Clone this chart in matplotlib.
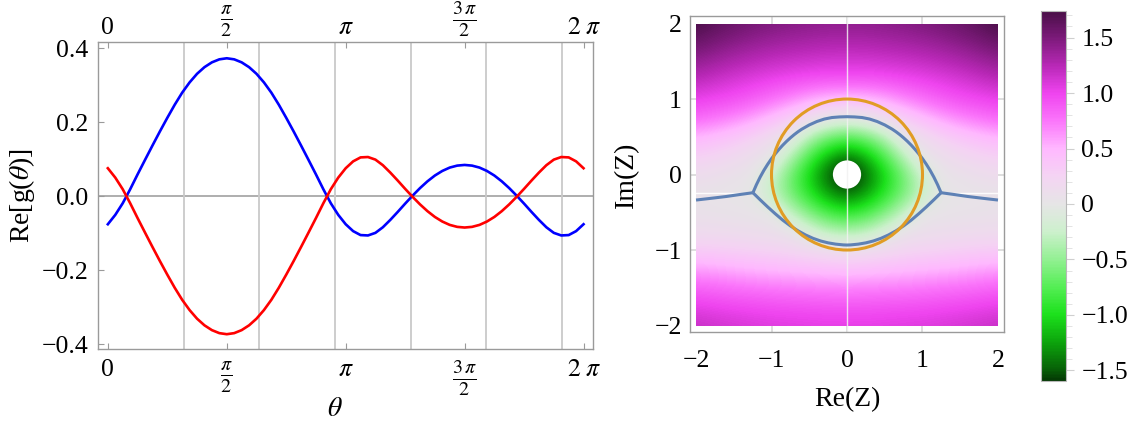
import numpy as np
import matplotlib
matplotlib.use("Agg")
import matplotlib.pyplot as plt
from matplotlib.colors import LinearSegmentedColormap, Normalize
from matplotlib.patches import Circle, Rectangle
from matplotlib.ticker import MultipleLocator, FixedLocator, FixedFormatter
import matplotlib.cm as cm

plt.rcParams['font.family'] = ['Liberation Serif', 'DejaVu Serif']
plt.rcParams['mathtext.fontset'] = 'stix'

# ---------------- left panel data: Re[g(theta)] sampled every pi/32 ----------------
n_theta = 65
theta = np.linspace(0.0, 2 * np.pi, n_theta)
re_g_blue = [-0.0757, -0.0504, -0.019, 0.0187, 0.059, 0.0982, 0.137, 0.1751, 0.212,
             0.2475, 0.280, 0.3078, 0.331, 0.349, 0.362, 0.3701, 0.373,
             0.3701, 0.362, 0.349, 0.331, 0.3078, 0.280, 0.2475, 0.212,
             0.1751, 0.137, 0.0982, 0.059, 0.0187, -0.019, -0.0504, -0.0757,
             -0.0943, -0.105, -0.106, -0.099, -0.0839, -0.064, -0.0424, -0.020,
             0.0016, 0.022, 0.0403, 0.056, 0.0684, 0.0775, 0.0828, 0.0846,
             0.0828, 0.0775, 0.0684, 0.056, 0.0403, 0.022, 0.0016, -0.020,
             -0.0424, -0.064, -0.0839, -0.099, -0.106, -0.105, -0.0943, -0.0757]
re_g_red = [0.0757, 0.0504, 0.019, -0.0187, -0.059, -0.0982, -0.137, -0.1751, -0.212,
            -0.2475, -0.280, -0.3078, -0.331, -0.349, -0.362, -0.3701, -0.373,
            -0.3701, -0.362, -0.349, -0.331, -0.3078, -0.280, -0.2475, -0.212,
            -0.1751, -0.137, -0.0982, -0.059, -0.0187, 0.019, 0.0504, 0.0757,
            0.0943, 0.105, 0.106, 0.099, 0.0839, 0.064, 0.0424, 0.020,
            -0.0016, -0.022, -0.0403, -0.056, -0.0684, -0.0775, -0.0828, -0.0846,
            -0.0828, -0.0775, -0.0684, -0.056, -0.0403, -0.022, -0.0016, 0.020,
            0.0424, 0.064, 0.0839, 0.099, 0.106, 0.105, 0.0943, 0.0757]

theta_ticks = [0, np.pi / 2, np.pi, 3 * np.pi / 2, 2 * np.pi]
theta_labels = ['0', r'$\frac{\pi}{2}$', r'$\pi$', r'$\frac{3\,\pi}{2}$', r'$2\;\pi$']
g_ticks = [-0.4, -0.2, 0.0, 0.2, 0.4]
g_labels = ['\u22120.4', '\u22120.2', '0.0', '0.2', '0.4']

# ---------------- right panel data: field on the Z plane ----------------
# grid values for Re(Z) = 0, 0.25, ..., 2 (mirror-symmetric in Re(Z)); rows Im(Z) = 2 ... -2
grid_re = [0.0, 0.25, 0.5, 0.75, 1.0, 1.25, 1.5, 1.75, 2.0]
grid_im = [2.0, 1.75, 1.5, 1.25, 1.0, 0.75, 0.5, 0.25, 0.0,
           -0.25, -0.5, -0.75, -1.0, -1.25, -1.5, -1.75, -2.0]
field_half = [
    [1.42, 1.42, 1.44, 1.46, 1.49, 1.53, 1.58, 1.65, 1.74],
    [1.28, 1.28, 1.30, 1.32, 1.35, 1.39, 1.44, 1.50, 1.57],
    [1.12, 1.12, 1.14, 1.16, 1.19, 1.23, 1.28, 1.34, 1.40],
    [0.90, 0.90, 0.92, 0.96, 1.00, 1.05, 1.10, 1.16, 1.22],
    [0.45, 0.48, 0.56, 0.68, 0.78, 0.87, 0.94, 0.98, 1.02],
    [-0.04, 0.02, 0.14, 0.30, 0.45, 0.58, 0.68, 0.76, 0.82],
    [-0.73, -0.62, -0.34, 0.02, 0.14, 0.27, 0.37, 0.44, 0.50],
    [-1.41, -1.18, -0.78, -0.33, 0.03, 0.10, 0.18, 0.24, 0.28],
    [-1.80, -1.48, -1.06, -0.64, -0.22, 0.03, 0.06, 0.10, 0.13],
    [-1.45, -1.26, -0.94, -0.61, -0.29, 0.00, 0.02, 0.03, 0.04],
    [-0.92, -0.81, -0.57, -0.28, 0.02, 0.03, 0.04, 0.05, 0.06],
    [-0.39, -0.32, -0.14, 0.05, 0.08, 0.10, 0.12, 0.13, 0.14],
    [0.12, 0.14, 0.18, 0.22, 0.25, 0.27, 0.29, 0.31, 0.32],
    [0.42, 0.43, 0.45, 0.47, 0.49, 0.51, 0.54, 0.57, 0.60],
    [0.70, 0.71, 0.72, 0.73, 0.75, 0.77, 0.79, 0.82, 0.85],
    [0.92, 0.92, 0.93, 0.94, 0.95, 0.97, 0.99, 1.01, 1.04],
    [1.05, 1.05, 1.06, 1.07, 1.08, 1.10, 1.12, 1.15, 1.18],
]
hole_radius = 0.187
field_min, field_max = -1.595, 1.739

# Stokes curves (left half; right half is the mirror image)
upper_x = [-1.246, -1.20, -1.15, -1.10, -1.05, -1.00, -0.95, -0.90, -0.85, -0.80,
           -0.75, -0.70, -0.65, -0.60, -0.50, -0.40, -0.30, -0.20, -0.10, 0.0]
upper_y = [-0.241, -0.135, -0.033, 0.057, 0.137, 0.21, 0.275, 0.335, 0.39, 0.44,
           0.486, 0.528, 0.566, 0.60, 0.657, 0.702, 0.735, 0.755, 0.763, 0.766]
lower_x = [-1.246, -1.15, -1.05, -0.95, -0.85, -0.75, -0.65, -0.55, -0.45, -0.35,
           -0.25, -0.15, -0.05, 0.0]
lower_y = [-0.241, -0.335, -0.43, -0.52, -0.605, -0.68, -0.745, -0.80, -0.845, -0.88,
           -0.905, -0.922, -0.932, -0.934]
outer_x = [-2.0, -1.8, -1.6, -1.4, -1.246]
outer_y = [-0.338, -0.315, -0.291, -0.262, -0.241]
# seam of the branch cut in the shaded field
cut_x = [-2.0, -1.246]
cut_y = [-0.247, -0.247]
unit_radius = 1.0

cbar_ticks = [-1.5, -1.0, -0.5, 0.0, 0.5, 1.0, 1.5]
cbar_labels = ['\u22121.5', '\u22121.0', '\u22120.5', '0', '0.5', '1.0', '1.5']
zplane_ticks = [-2, -1, 0, 1, 2]
zplane_labels = ['\u22122', '\u22121', '0', '1', '2']

# colour scale: dark green -> light grey -> magenta -> dark purple
cmap_nodes = [(-1.595, '#043804'), (-1.5, '#075f07'), (-1.25, '#0ca40c'),
              (-1.0, '#1ce11c'), (-0.75, '#55ee55'), (-0.5, '#93f093'),
              (-0.25, '#cdf0cd'), (0.0, '#e6e5e6'), (0.25, '#f4d4f3'),
              (0.5, '#ffb8ff'), (0.75, '#fb76fb'), (1.0, '#ef44ef'),
              (1.25, '#b828b6'), (1.5, '#7c1a7a'), (1.739, '#4a0f48')]
span = field_max - field_min
cmap = LinearSegmentedColormap.from_list(
    'greenpink', [((v - field_min) / span, c) for v, c in cmap_nodes])
norm = Normalize(vmin=field_min, vmax=field_max)

FS_TICK = 18.5
FS_FRAC = 20.5
FS_LABEL = 20
FRAME = '#9a9a9a'
GRID = '#c9c9c9'

fig = plt.figure(figsize=(11.4, 4.22), dpi=100)

# ---------------- left panel ----------------
ax = fig.add_axes([98 / 1140, 1 - 349 / 422, 495 / 1140, 307 / 422])
ax.set_xlim(-0.13, 2 * np.pi + 0.125)
ax.set_ylim(-0.413, 0.417)
ax.set_xticks(range(1, 7), minor=True)
ax.set_yticks([-0.2, 0.2], minor=True)
ax.grid(which='minor', color=GRID, lw=1.3)
ax.axhline(0, color='#a8a8a8', lw=1.3, zorder=1)
ax.plot(theta, re_g_blue, color='#0000ff', lw=1.9, zorder=3)
ax.plot(theta, re_g_red, color='#ff0000', lw=1.9, zorder=3)
ax.set_xticks(theta_ticks)
ax.set_xticklabels(theta_labels)
ax.set_yticks(g_ticks)
ax.set_yticklabels(g_labels)
ax.tick_params(which='major', direction='in', length=4, width=0.8, color=FRAME,
               labelsize=FS_TICK, top=True, pad=7)
ax.tick_params(which='minor', length=0)
for s in ax.spines.values():
    s.set_color(FRAME)
    s.set_linewidth(1.0)

top = ax.secondary_xaxis('top')
top.set_xticks(theta_ticks)
top.set_xticklabels(theta_labels)
top.tick_params(direction='in', length=0, labelsize=FS_TICK, pad=2.5)
top.spines['top'].set_visible(False)
for lab in list(ax.get_xticklabels()) + list(top.get_xticklabels()):
    if 'frac' in lab.get_text():
        lab.set_fontsize(FS_FRAC)

fig.text(22 / 1140, 1 - 196 / 422, r'Re[g($\theta$)]', rotation=90,
         ha='center', va='center', fontsize=FS_LABEL)
fig.text(335 / 1140, 1 - 410 / 422, r'$\theta$', ha='center', va='center',
         fontsize=FS_LABEL)

# ---------------- right panel ----------------
ax2 = fig.add_axes([689 / 1140, 1 - 332 / 422, 316 / 1140, 316 / 422])
ax2.set_xlim(-2.079, 2.079)
ax2.set_ylim(-2.086, 2.1)
for v in (-1, 0, 1):
    ax2.axvline(v, color='#d4d4d4', lw=1.1, zorder=0)
    ax2.axhline(v, color='#d4d4d4', lw=1.1, zorder=0)

half = np.array(field_half)
field = np.hstack([half[:, :0:-1], half])
step = grid_re[1] - grid_re[0]
im = ax2.imshow(field, cmap=cmap, norm=norm, origin='upper',
                extent=[-grid_re[-1] - step / 2, grid_re[-1] + step / 2,
                        grid_im[-1] - step / 2, grid_im[0] + step / 2],
                interpolation='bicubic', interpolation_stage='data', zorder=1)
im.set_clip_path(Rectangle((-grid_re[-1], grid_im[-1]), 2 * grid_re[-1],
                           grid_im[0] - grid_im[-1], transform=ax2.transData))
ax2.add_patch(Circle((0, 0), hole_radius, facecolor='white', edgecolor='none', zorder=2))
ax2.axvline(0, color='#f2f2f2', lw=1.0, alpha=0.85, zorder=2.5)
cx, cy = np.array(cut_x), np.array(cut_y)
ax2.plot(cx, cy, color='white', lw=1.0, alpha=0.9, zorder=2.6)
ax2.plot(-cx, cy, color='white', lw=1.0, alpha=0.9, zorder=2.6)

blue = '#5e81b5'
orange = '#e19c24'
ux, uy = np.array(upper_x), np.array(upper_y)
lx, ly = np.array(lower_x), np.array(lower_y)
ox, oy = np.array(outer_x), np.array(outer_y)
ax2.plot(np.concatenate([ux, -ux[::-1][1:]]), np.concatenate([uy, uy[::-1][1:]]),
         color=blue, lw=2.2, zorder=4, solid_capstyle='butt')
ax2.plot(np.concatenate([lx, -lx[::-1][1:]]), np.concatenate([ly, ly[::-1][1:]]),
         color=blue, lw=2.2, zorder=4, solid_capstyle='butt')
ax2.plot(ox, oy, color=blue, lw=2.2, zorder=4, solid_capstyle='butt')
ax2.plot(-ox, oy, color=blue, lw=2.2, zorder=4, solid_capstyle='butt')
ax2.add_patch(Circle((0, 0), unit_radius, facecolor='none', edgecolor=orange,
                     lw=2.2, zorder=5))

ax2.set_xticks(zplane_ticks)
ax2.set_xticklabels(zplane_labels)
ax2.set_yticks(zplane_ticks)
ax2.set_yticklabels(zplane_labels)
ax2.tick_params(axis='x', length=0, labelsize=FS_TICK, pad=13)
ax2.tick_params(axis='y', length=0, labelsize=FS_TICK, pad=6)
for s in ax2.spines.values():
    s.set_color(FRAME)
    s.set_linewidth(1.0)
fig.text(847 / 1140, 1 - 400 / 422, 'Re(Z)', ha='center', va='center', fontsize=FS_LABEL)
fig.text(627 / 1140, 1 - 175 / 422, 'Im(Z)', rotation=90, ha='center', va='center',
         fontsize=FS_LABEL)

# ---------------- colour bar ----------------
cax = fig.add_axes([1041 / 1140, 1 - 381 / 422, 25 / 1140, 370 / 422])
cb = fig.colorbar(cm.ScalarMappable(norm=norm, cmap=cmap), cax=cax)
cb.outline.set_edgecolor('#b8b8b8')
cb.outline.set_linewidth(0.8)
cax.yaxis.set_major_locator(FixedLocator(cbar_ticks))
cax.yaxis.set_major_formatter(FixedFormatter(cbar_labels))
cax.yaxis.set_minor_locator(MultipleLocator(0.1))
cax.tick_params(which='major', length=6, width=0.8, color='#cfcfcf',
                labelsize=FS_TICK, pad=5)
cax.tick_params(which='minor', length=4, width=0.6, color='#dedede')

fig.savefig('out.png', dpi=100)
